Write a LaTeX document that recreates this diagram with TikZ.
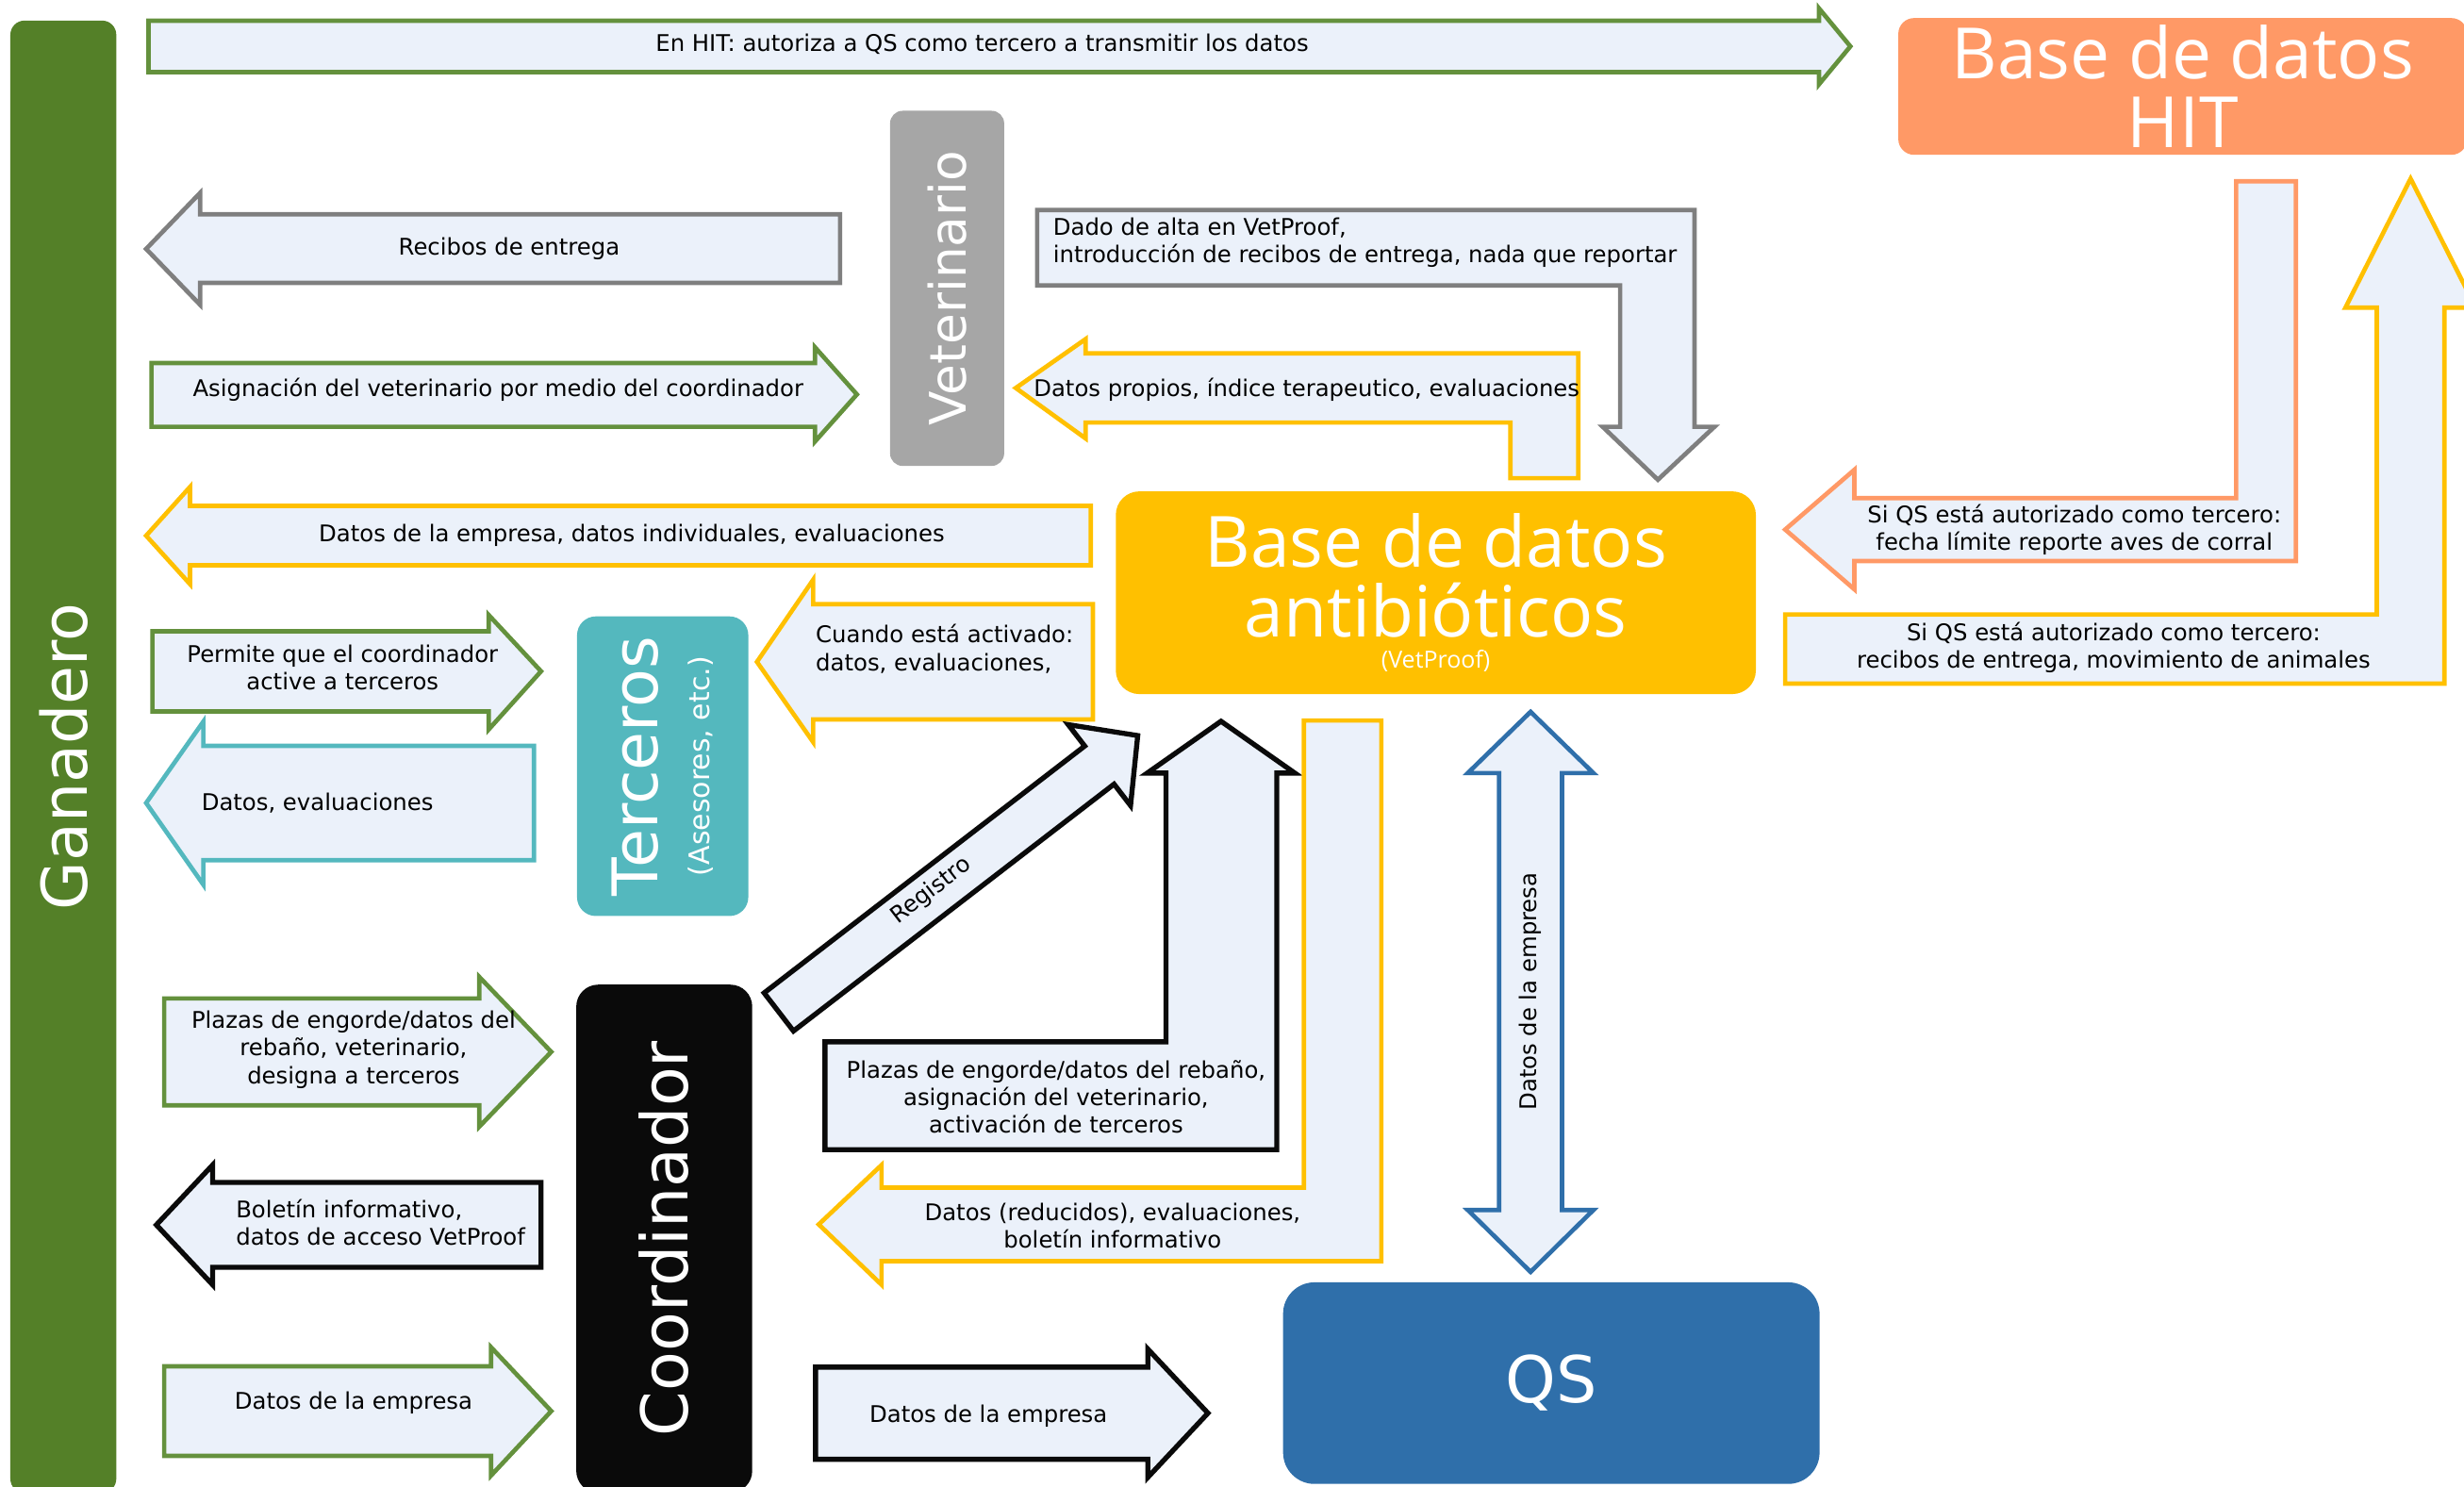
\documentclass[tikz,border=0pt]{standalone}
\usepackage{fontspec}
\setmainfont{DejaVu Sans}
\newfontfamily\titlefont{Open Sans}
\definecolor{flowbg}{HTML}{EBF1FA}
\definecolor{farmgreen}{HTML}{548028}
\definecolor{arrgreen}{HTML}{64913D}
\definecolor{vetgray}{HTML}{A6A6A6}
\definecolor{arrgray}{HTML}{7F7F7F}
\definecolor{dbyellow}{HTML}{FFC000}
\definecolor{hitorange}{HTML}{FF9966}
\definecolor{thirdteal}{HTML}{54B8BE}
\definecolor{qsblue}{HTML}{2F6FAA}
\definecolor{coordblack}{HTML}{0A0A0A}

\begin{document}
\begin{tikzpicture}[x=1pt,y=-1pt,
    entity/.style={rounded corners=#1,text=white,inner sep=0pt,align=center},
    flow/.style={fill=flowbg,line width=2.8pt},
    lbl/.style={font=\fontsize{14.6}{17.5}\selectfont,align=center,inner sep=0pt}]
        \useasboundingbox (0,0) rectangle (1568,946);

        \node[entity=9pt,fill=farmgreen,minimum width=937,minimum height=67.4,rotate=90,font=\fontsize{40}{44}\selectfont] (G) at (40.3,481.6) {Ganadero};
        \node[entity=8pt,fill=vetgray,minimum width=226,minimum height=72.6,rotate=90,font=\fontsize{32}{34}\selectfont] (V) at (602.7,183.5) {Veterinario};
        \node[entity=12pt,fill=thirdteal,minimum width=190.7,minimum height=109,rotate=90,font=\fontsize{40}{33}\selectfont] (T) at (421.7,487.6) {Terceros\\{\fontsize{18}{20}\selectfont (Asesores, etc.)}};
        \node[entity=14pt,fill=coordblack,minimum width=323.4,minimum height=112,rotate=90,font=\fontsize{41}{44}\selectfont] (C) at (422.7,788.3) {Coordinador};
        \node[entity=10pt,fill=hitorange,minimum width=362,minimum height=87,font=\titlefont\fontsize{45}{44}\selectfont] (HIT) at (1389,55) {Base de datos\\HIT};
        \node[entity=15pt,fill=dbyellow,minimum width=407.3,minimum height=129,font=\titlefont\fontsize{45}{44}\selectfont] (BDA) at (913.7,377.2) {Base de datos\\antibióticos\\[-24pt]{\fontsize{15}{17}\selectfont(VetProof)}};
        \node[entity=20pt,fill=qsblue,minimum width=341.4,minimum height=128.3,font=\fontsize{41}{44}\selectfont] (QS) at (987.2,880.2) {QS};

        \draw[flow,draw=arrgreen] (94.5,13.2) -- (1157.5,13.2) -- (1157.5,5.3) -- (1177.5,29.5) -- (1157.5,53.7) -- (1157.5,45.9) -- (94.5,45.9) -- cycle;
        \draw[flow,draw=arrgray] (534.6,136.4) -- (127.4,136.4) -- (127.4,122.7) -- (93,158.4) -- (127.4,194) -- (127.4,180) -- (534.6,180) -- cycle;
        \draw[flow,draw=arrgreen] (96.4,231) -- (518.6,231) -- (518.6,221) -- (545.3,251) -- (518.6,281) -- (518.6,271.6) -- (96.4,271.6) -- cycle;
        \draw[flow,draw=arrgray] (660,133.7) -- (1078.3,133.7) -- (1078.3,271.6) -- (1091,271.6) -- (1055,305.3) -- (1019.9,271.6) -- (1031,271.6) -- (1031,181.7) -- (660,181.7) -- cycle;
        \draw[flow,draw=dbyellow] (1004.4,224.9) -- (1004.4,304.3) -- (961.2,304.3) -- (961.2,268.9) -- (690.8,268.9) -- (690.8,279) -- (646.4,246.9) -- (690.8,215.8) -- (690.8,224.9) -- cycle;
        \draw[flow,draw=dbyellow] (694.1,321.9) -- (120.9,321.9) -- (120.9,309.9) -- (93,340.9) -- (120.9,371.7) -- (120.9,359.7) -- (694.1,359.7) -- cycle;
        \draw[flow,draw=hitorange] (1423,115.4) -- (1461,115.4) -- (1461,357) -- (1180,357) -- (1180,375) -- (1136,337) -- (1180,299) -- (1180,317) -- (1423,317) -- cycle;
        \draw[flow,draw=dbyellow] (1136,391) -- (1512.5,391) -- (1512.5,195.8) -- (1492.5,195.8) -- (1534,113.7) -- (1575.5,195.8) -- (1555.5,195.8) -- (1555.5,435) -- (1136,435) -- cycle;
        \draw[flow,draw=arrgreen] (97,401.7) -- (311,401.7) -- (311,391.4) -- (344.3,427.2) -- (311,464.2) -- (311,452.7) -- (97,452.7) -- cycle;
        \draw[flow,draw=thirdteal] (339.8,474.6) -- (129.4,474.6) -- (129.4,459.2) -- (93,511) -- (129.4,563) -- (129.4,547.4) -- (339.8,547.4) -- cycle;
        \draw[flow,draw=dbyellow] (695.5,384.5) -- (517.5,384.5) -- (517.5,368.9) -- (481.7,421.2) -- (517.5,472.3) -- (517.5,457.8) -- (695.5,457.8) -- cycle;
        \begin{scope}[shift={(495.6,644)},rotate=37.6]
            \draw[flow,draw=coordblack,line width=3.2pt] (0,15.3) -- (257.5,15.3) -- (257.5,32.5) -- (288.3,0) -- (257.5,-32.5) -- (257.5,-15.3) -- (0,-15.3) -- cycle;
        \end{scope}
        \draw[flow,draw=coordblack,line width=3.2pt] (525,663) -- (742,663) -- (742,492) -- (730,492) -- (777,459) -- (824,492) -- (812.5,492) -- (812.5,731.6) -- (525,731.6) -- cycle;
        \draw[flow,draw=dbyellow] (829.7,458.5) -- (879,458.5) -- (879,802.6) -- (561,802.6) -- (561,817.6) -- (521,779.2) -- (561,741.4) -- (561,755.8) -- (829.7,755.8) -- cycle;
        \draw[flow,draw=qsblue] (954,492) -- (934,492) -- (974,453) -- (1014,492) -- (994,492) -- (994,770) -- (1014,770) -- (974,809.4) -- (934,770) -- (954,770) -- cycle;
        \draw[flow,draw=arrgreen] (104.5,635.4) -- (305,635.4) -- (305,621.7) -- (350.8,669.4) -- (305,717) -- (305,703.4) -- (104.5,703.4) -- cycle;
        \draw[flow,draw=coordblack,line width=3.2pt] (344.3,752.5) -- (135.3,752.5) -- (135.3,741.4) -- (99.5,779.5) -- (135.3,817.6) -- (135.3,806.5) -- (344.3,806.5) -- cycle;
        \draw[flow,draw=arrgreen] (104.5,869.5) -- (312.5,869.5) -- (312.5,857.4) -- (350.8,898) -- (312.5,939) -- (312.5,926.5) -- (104.5,926.5) -- cycle;
        \draw[flow,draw=coordblack,line width=3.2pt] (519,870) -- (730.4,870) -- (730.4,858.5) -- (768.7,899.3) -- (730.4,940.2) -- (730.4,928.7) -- (519,928.7) -- cycle;

        \node[lbl] (lHIT) at (625,28) {En HIT: autoriza a QS como tercero a transmitir los datos};
        \node[lbl] (lRecibos) at (324,158) {Recibos de entrega};
        \node[lbl] (lAsigna) at (317,248) {Asignación del veterinario por medio del coordinador};
        \node[lbl,align=left,anchor=west] (lAlta) at (670,154.5) {Dado de alta en VetProof,\\introducción de recibos de entrega, nada que reportar};
        \node[lbl] (lPropios) at (831.5,248) {Datos propios, índice terapeutico, evaluaciones};
        \node[lbl] (lEmpresaInd) at (402,341) {Datos de la empresa, datos individuales, evaluaciones};
        \node[lbl] (lFecha) at (1320,337) {Si QS está autorizado como tercero:\\fecha límite reporte aves de corral};
        \node[lbl] (lMovim) at (1345,412) {Si QS está autorizado como tercero:\\recibos de entrega, movimiento de animales};
        \node[lbl] (lPermite) at (218,425) {Permite que el coordinador\\active a terceros};
        \node[lbl] (lEval) at (202,511) {Datos, evaluaciones};
        \node[lbl,align=left,anchor=west] (lCuando) at (519,413) {Cuando está activado:\\datos, evaluaciones,};
        \node[lbl,rotate=37.6] (lRegistro) at (592.5,567) {Registro};
        \node[lbl] (lPlazasC) at (672,698) {Plazas de engorde/datos del rebaño,\\asignación del veterinario,\\activación de terceros};
        \node[lbl] (lReducidos) at (708,780) {Datos (reducidos), evaluaciones,\\boletín informativo};
        \node[lbl,rotate=90] (lEmpresaQS) at (974,631) {Datos de la empresa};
        \node[lbl] (lPlazasG) at (225,668) {Plazas de engorde/datos del\\rebaño, veterinario,\\designa a terceros};
        \node[lbl,align=left,anchor=west] (lBoletin) at (150,778) {Boletín informativo,\\datos de acceso VetProof};
        \node[lbl] (lEmpresaG) at (225,893) {Datos de la empresa};
        \node[lbl] (lEmpresaC) at (629,901) {Datos de la empresa};
\end{tikzpicture}
\end{document}
